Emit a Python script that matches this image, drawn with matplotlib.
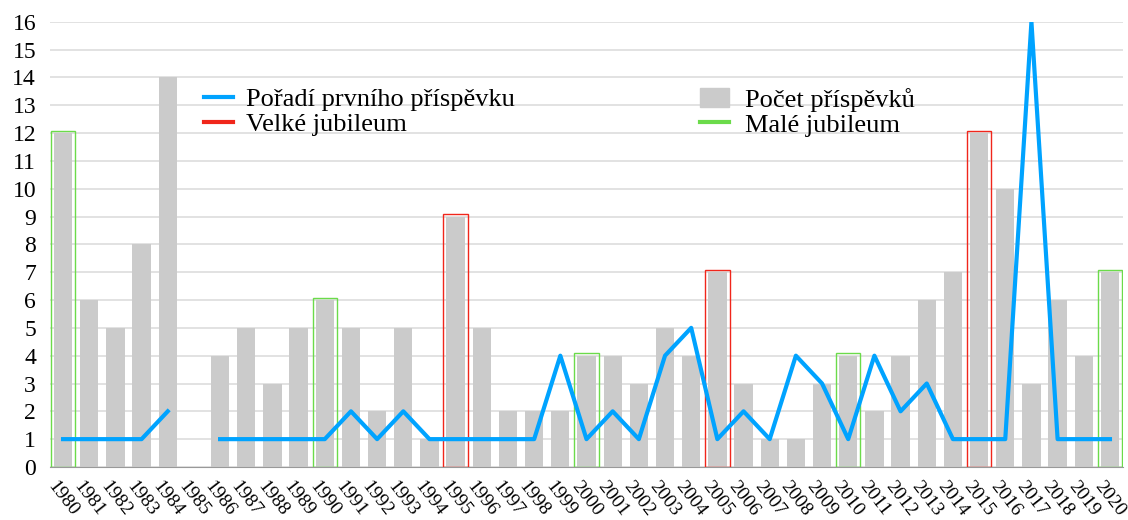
import numpy as np
import matplotlib.pyplot as plt
from matplotlib.patches import Patch
from matplotlib.lines import Line2D

plt.rcParams['font.family'] = ['Liberation Serif', 'DejaVu Serif']

# data
years = list(range(1980, 2021))
pocet = [12, 6, 5, 8, 14, 0, 4, 5, 3, 5,
         6, 5, 2, 5, 1, 9, 5, 2, 2, 2,
         4, 4, 3, 5, 4, 7, 3, 1, 1, 3,
         4, 2, 4, 6, 7, 12, 10, 3, 6, 4,
         7]
poradi = [1, 1, 1, 1, 2, np.nan, 1, 1, 1, 1,
          1, 2, 1, 2, 1, 1, 1, 1, 1, 4,
          1, 2, 1, 4, 5, 1, 2, 1, 4, 3,
          1, 4, 2, 3, 1, 1, 1, 16, 1, 1,
          1]
velke = [1995, 2005, 2015]
male = [1980, 1990, 2000, 2010, 2020]

x = np.arange(len(years))
blue = '#00A3FF'
gray = '#CBCBCB'
red = '#F0261B'
green = '#6BDB4A'

fig = plt.figure(figsize=(11.28, 5.2), dpi=100)
ax = fig.add_axes([0.0443, 0.102, 0.9513, 0.856])

ax.bar(x, pocet, width=0.7, color=gray, zorder=2)

# jubilee outlines
for yrs, col in ((velke, red), (male, green)):
    idx = [years.index(y) for y in yrs]
    ax.bar(idx, [pocet[i] + 0.08 for i in idx], width=0.93, fill=False,
           edgecolor=col, linewidth=1, zorder=3)

ax.plot(x, poradi, color=blue, lw=3, zorder=4)

ax.set_xlim(-0.5, len(years) - 0.5)
ax.set_ylim(0, 16)
ax.set_yticks(range(0, 17))
ax.yaxis.grid(True, color='#DDDDDD', lw=1.2, zorder=0)
ax.set_axisbelow(True)
for s in ['top', 'right', 'left']:
    ax.spines[s].set_visible(False)
ax.spines['bottom'].set_color('#999999')
ax.tick_params(length=0, labelsize=17)
ax.tick_params(axis='y', pad=10)
ax.set_xticks(x)
ax.set_xticklabels([str(y) for y in years], rotation=-52, ha='center',
                   fontsize=14)
ax.tick_params(axis='x', pad=8)

h1 = [Line2D([], [], color=blue, lw=3), Line2D([], [], color=red, lw=3)]
l1 = ['Pořadí prvního příspěvku', 'Velké jubileum']
leg1 = ax.legend(h1, l1, loc='upper left', bbox_to_anchor=(130 / 1073, 0.905),
                 frameon=False, fontsize=19, handlelength=1.1,
                 labelspacing=0.05, handletextpad=0.5)
ax.add_artist(leg1)
h2 = [Patch(color=gray), Line2D([], [], color=green, lw=3)]
l2 = ['Počet příspěvků', 'Malé jubileum']
ax.legend(h2, l2, loc='upper left', bbox_to_anchor=(626 / 1073, 0.905),
          frameon=False, fontsize=19, handlelength=1.1,
          labelspacing=0.05, handletextpad=0.6)

fig.savefig('out.png', dpi=100)
